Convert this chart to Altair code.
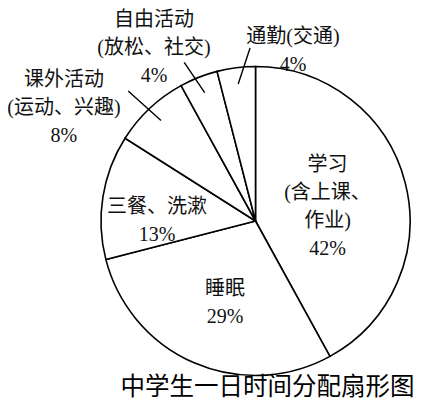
import altair as alt
import numpy as np
import pandas as pd

# data
names = ["学习\n(含上课、\n作业)", "睡眠", "三餐、洗漱", "课外活动\n(运动、兴趣)", "自由活动\n(放松、社交)", "通勤(交通)"]
shares = [42, 29, 13, 8, 4, 4]
title_text = "中学生一日时间分配扇形图"

# layout: where each label block sits (radius px, turn in degrees from slice middle)
label_radius = [74, 85, 98.5, 224, 203, 177.5]
label_turn = [1, -2.4, -7.5, -15.6, -8.4, 19.4]
# leader lines for outside labels: (inner r, outer r, outer turn)
leaders = {3: (138, 182, -1.2), 4: (138, 174, -2.6), 5: (138, 173, 5.4)}

W, H = 321, 362
CX, CY = W / 2, H / 2
R = 154.5
LH = 28
TEXT_DY = 3
LABEL_FONT = "Liberation Serif, Noto Sans CJK SC"

df = pd.DataFrame({"name": names, "share": shares})
df["idx"] = range(len(df))
df["text"] = df["name"] + "\n" + df["share"].astype(str) + "%"
nlines = df["text"].str.count("\n").to_numpy()
ends = np.cumsum(shares) / sum(shares) * 360
mids = ends - np.array(shares) / sum(shares) * 180
ang = np.radians(mids + np.array(label_turn))
df["lx"] = CX + np.array(label_radius) * np.sin(ang)
# first line position so that the whole block is centred
df["ly"] = CY - np.array(label_radius) * np.cos(ang) - nlines * LH / 2 + TEXT_DY

rows = []
for i, (r0, r1, turn) in leaders.items():
    a0 = np.radians(mids[i])
    a1 = np.radians(mids[i] + turn)
    rows.append({
        "x": CX + r0 * np.sin(a0), "y": CY - r0 * np.cos(a0),
        "x2": CX + r1 * np.sin(a1), "y2": CY - r1 * np.cos(a1),
    })
lead_df = pd.DataFrame(rows)

pie = (
    alt.Chart(df)
    .mark_arc(outerRadius=R, fill="white", stroke="black", strokeWidth=1.6)
    .encode(
        theta=alt.Theta("share:Q", stack=True),
        order=alt.Order("idx:Q"),
    )
)

labels = (
    alt.Chart(df)
    .mark_text(font=LABEL_FONT, fontSize=20, lineBreak="\n", lineHeight=LH,
               align="center", baseline="middle", color="#111")
    .encode(
        x=alt.X("lx:Q", scale=None, axis=None),
        y=alt.Y("ly:Q", scale=None, axis=None),
        text="text:N",
    )
)

lines = (
    alt.Chart(lead_df)
    .mark_rule(color="black", strokeWidth=1.4)
    .encode(
        x=alt.X("x:Q", scale=None, axis=None),
        y=alt.Y("y:Q", scale=None, axis=None),
        x2="x2:Q",
        y2="y2:Q",
    )
)

title = (
    alt.Chart(pd.DataFrame({"t": [title_text]}))
    .mark_text(font="Noto Sans CJK SC", fontSize=24.5, align="center", baseline="middle", color="black")
    .encode(x=alt.value(172.5), y=alt.value(348), text="t:N")
)

chart = (
    alt.layer(pie, lines, labels, title)
    .properties(
        width=W, height=H,
        padding={"left": 87, "top": 32, "right": 0, "bottom": 0},
        autosize=alt.AutoSizeParams(type="none"),
        background="white",
    )
    .configure_view(stroke=None)
)

chart.save("out.html", embed_options={"renderer": "svg", "actions": False})
